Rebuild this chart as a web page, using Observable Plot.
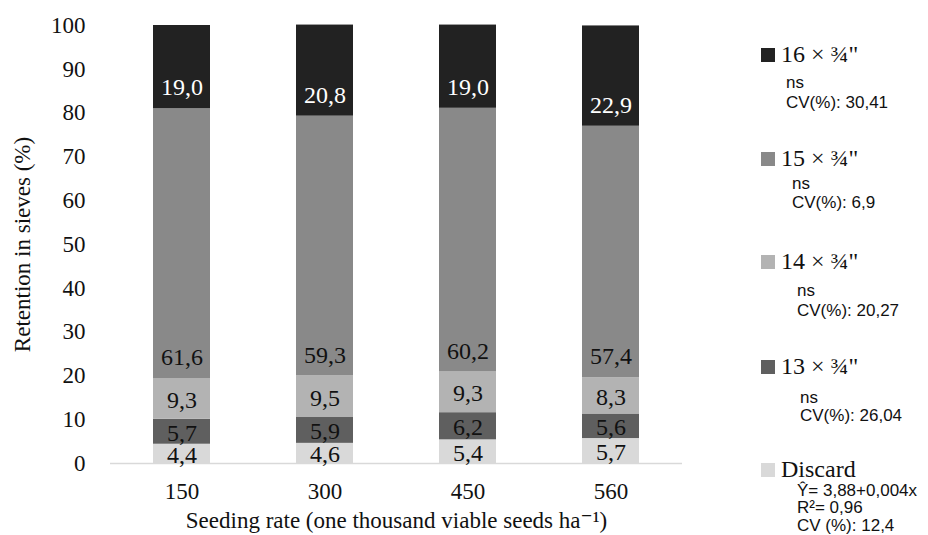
<!DOCTYPE html>
<html>
<head>
<meta charset="utf-8">
<script src="https://cdn.jsdelivr.net/npm/d3@7"></script>
<script src="https://cdn.jsdelivr.net/npm/@observablehq/plot@0.6"></script>
<style>
  body { margin: 0; background: #fff; }
  #wrap { position: relative; width: 928px; height: 535px; overflow: hidden; }
  #chart { position: absolute; left: 0; top: 0; }
  .lg { position: absolute; white-space: nowrap; transform: translateY(-50%); line-height: 1; }
  .sw { position: absolute; width: 14px; height: 14px; transform: translateY(-50%); }
  .ttl { font-family: "Liberation Serif", "Times New Roman", serif; font-size: 24px; color: #111; }
  .sub { font-family: "Liberation Sans", Arial, sans-serif; font-size: 17px; color: #111; }
</style>
</head>
<body>
<div id="wrap"><div id="chart"></div></div>
<script>
// ---- data ----
const rates = ["150", "300", "450", "560"];
const series = ["Discard", "13 × ¾\"", "14 × ¾\"", "15 × ¾\"", "16 × ¾\""];
const colors = ["#d9d9d9", "#5f5f5f", "#b3b3b3", "#898989", "#222222"];
const discard = [4.4, 4.6, 5.4, 5.7];
const s13 = [5.7, 5.9, 6.2, 5.6];
const s14 = [9.3, 9.5, 9.3, 8.3];
const s15 = [61.6, 59.3, 60.2, 57.4];
const s16 = [19.0, 20.8, 19.0, 22.9];
const yTicks = [0, 10, 20, 30, 40, 50, 60, 70, 80, 90, 100];
const legendNotes = [
  ["ns", "CV(%): 30,41"],
  ["ns", "CV(%): 6,9"],
  ["ns", "CV(%): 20,27"],
  ["ns", "CV(%): 26,04"],
  ["Ŷ= 3,88+0,004x", "R²= 0,96", "CV (%): 12,4"]
];

const values = [discard, s13, s14, s15, s16];
const rows = [];
const base = rates.map(() => 0);
values.forEach((arr, si) => {
  arr.forEach((v, i) => {
    rows.push({rate: rates[i], series: series[si], v, base: base[i]});
    base[i] += v;
  });
});
const fmt = v => v.toFixed(1).replace(".", ",");

const serif = "Times New Roman, Liberation Serif, DejaVu Serif, serif";

const chart = Plot.plot({
  width: 928,
  height: 535,
  marginLeft: 110,
  marginRight: 246,
  marginTop: 25,
  marginBottom: 72,
  style: {fontSize: "23px", fontFamily: serif, color: "#111", background: "#fff"},
  x: {type: "band", domain: rates, paddingInner: 0.6, paddingOuter: 0.3, label: null},
  y: {domain: [0, 100], label: null},
  color: {domain: series, range: colors},
  marks: [
    Plot.barY(rows, Plot.stackY({x: "rate", y: "v", z: "series", fill: "series", order: null})),
    Plot.ruleY([0], {stroke: "#d9d9d9", strokeWidth: 1.5}),
    Plot.text(rows, {
      x: "rate",
      y: d => d.base + Math.min(4.8, d.v / 2 - 0.3),
      text: d => fmt(d.v),
      fill: d => d.series === series[4] ? "#ffffff" : "#111111",
      fontSize: 24,
      fontFamily: serif
    }),
    Plot.axisY({ticks: yTicks, tickSize: 0, tickPadding: 25, fontSize: 23, fontFamily: serif, fontVariant: "normal", label: "Retention in sieves (%)", labelAnchor: "center", labelArrow: "none", labelOffset: 97}),
    Plot.axisX({tickSize: 0, tickPadding: 19, fontSize: 23, fontFamily: serif, fontVariant: "normal", label: "Seeding rate (one thousand viable seeds ha⁻¹)", labelAnchor: "center", labelArrow: "none", labelOffset: 64})
  ]
});
document.getElementById("chart").appendChild(chart);

// ---- legend (order top to bottom: 16, 15, 14, 13, Discard) ----
const wrap = document.getElementById("wrap");
const legendLayout = [
  {si: 4, y: 55, subs: [82, 102], sx: 786},
  {si: 3, y: 159, subs: [183, 202], sx: 792},
  {si: 2, y: 262, subs: [290, 310], sx: 797},
  {si: 1, y: 367, subs: [397, 415], sx: 800},
  {si: 0, y: 470, subs: [490, 507, 525], sx: 797}
];
legendLayout.forEach((L, k) => {
  const sw = document.createElement("div");
  sw.className = "sw";
  sw.style.left = "761px";
  sw.style.top = L.y + "px";
  sw.style.background = colors[L.si];
  wrap.appendChild(sw);
  const t = document.createElement("div");
  t.className = "lg ttl";
  t.style.left = "781px";
  t.style.top = (L.y - 1) + "px";
  t.textContent = series[L.si];
  wrap.appendChild(t);
  legendNotes[k].forEach((s, j) => {
    const d = document.createElement("div");
    d.className = "lg sub";
    d.style.left = L.sx + "px";
    d.style.top = L.subs[j] + "px";
    d.textContent = s;
    wrap.appendChild(d);
  });
});
</script>
</body>
</html>
